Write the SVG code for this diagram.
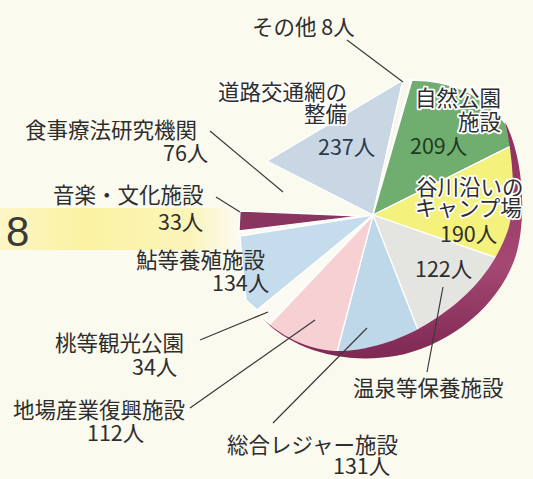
<svg xmlns="http://www.w3.org/2000/svg" width="533" height="479" viewBox="0 0 533 479">
<defs>
<linearGradient id="band" x1="0" y1="0" x2="1" y2="0">
<stop offset="0" stop-color="#fcf6c8"/>
<stop offset="0.35" stop-color="#fbf2a2"/>
<stop offset="0.8" stop-color="#fbf3ab" stop-opacity="0.8"/>
<stop offset="1" stop-color="#fbf3ab" stop-opacity="0"/>
</linearGradient>
<linearGradient id="rim" x1="0" y1="0" x2="0" y2="1">
<stop offset="0" stop-color="#8c2f5d"/>
<stop offset="0.6" stop-color="#a54874"/>
<stop offset="1" stop-color="#7e2853"/>
</linearGradient>
<style>
text{font-family:"Noto Sans CJK JP","Noto Sans",sans-serif;font-size:21.5px;fill:#2e2e2e}
.halo{stroke:#ffffff;stroke-width:3.5;paint-order:stroke;stroke-linejoin:round}
.end{text-anchor:end}
.w{stroke:#ffffff;stroke-width:1.3;stroke-linejoin:round}
.ln{stroke:#3a3a3a;stroke-width:1.2;fill:none}
</style>
</defs>
<rect width="533" height="479" fill="#fbfaef"/>
<rect x="0" y="208" width="236" height="42" fill="url(#band)"/>
<text x="6" y="246" style="font-family:'Liberation Sans',Arial,sans-serif;font-size:42px;fill:#3a3a3a">8</text>

<g id="slice-douro">
<path class="w" d="M373,215 L267,161 L403,80 Z" fill="#c9d7e4"/>
</g>
<g id="slice-sonota">
<path class="w" d="M373,215 L403,80 L411,80 Z" fill="#f8f7ec"/>
</g>
<g id="slice-shizen">
<path class="w" d="M373,215 L412,80 Q472,80 506,124 L511,146 Z" fill="#6fae6f"/>
</g>
<g id="slice-tanigawa">
<path class="w" d="M373,215 L511,146 C518,180 517,225 497,258 Z" fill="#f4f17c"/>
</g>
<g id="slice-onsen">
<path class="w" d="M373,215 L497,258 C482,287 452,314 418,330 Z" fill="#e4e4e0"/>
</g>
<g id="slice-sogo">
<path class="w" d="M373,215 L418,330 C395,343 365,352 337,352 Z" fill="#bed8ea"/>
</g>
<g id="slice-jiba">
<path class="w" d="M373,215 L337,352 C305,350 282,338 268,326 Z" fill="#f7d0d3"/>
</g>
<g id="slice-momo">
<path class="w" d="M373,215 L268,326 L262,318 L257,310 Z" fill="#fbfbf3"/>
</g>
<g id="slice-ayu">
<path class="w" d="M373,215 L257,310 L246,300 L240,236 Z" fill="#c4dcec"/>
</g>
<g id="slice-ongaku">
<path class="w" d="M362,216 L240,211 L239,231 Z" fill="#8a3560"/>
</g>
<g id="rim">
<path d="M262,318 C290,348 340,365 395,356 C450,346 500,305 516,255 C526,222 525,160 505,122 C514,160 516,205 508,230 C496,265 470,300 420,328 C390,345 355,352 335,351 C305,349 280,335 262,318 Z" fill="url(#rim)"/>
</g>

<g id="connectors">
<line class="ln" x1="347" y1="40" x2="403" y2="82"/>
<line class="ln" x1="210" y1="131" x2="283" y2="192"/>
<line class="ln" x1="216" y1="197" x2="240" y2="212"/>
<line class="ln" x1="200" y1="340" x2="268" y2="312"/>
<line class="ln" x1="190" y1="408" x2="315" y2="320"/>
<line class="ln" x1="273" y1="423" x2="367" y2="328"/>
<line class="ln" x1="443" y1="287" x2="427" y2="372"/>
</g>

<g id="label-sonota"><text x="252" y="35">その他 8人</text></g>
<g id="label-douro">
<text class="end halo" x="347" y="100">道路交通網の</text>
<text class="end halo" x="347" y="122">整備</text>
<text x="318" y="155" style="fill:#2c3a4a">237人</text>
</g>
<g id="label-shizen">
<text class="halo" x="415" y="106">自然公園</text>
<text class="end halo" x="501" y="130">施設</text>
<text x="410" y="154" style="fill:#1f3b22">209人</text>
</g>
<g id="label-tanigawa">
<text class="halo" x="416" y="195">谷川沿いの</text>
<text class="halo" x="415" y="216">キャンプ場</text>
<text x="440" y="242">190人</text>
</g>
<g id="label-onsen">
<text x="415" y="277">122人</text>
<text x="353" y="396">温泉等保養施設</text>
</g>
<g id="label-sogo">
<text x="227" y="453">総合レジャー施設</text>
<text x="333" y="474">131人</text>
</g>
<g id="label-jiba">
<text x="13" y="418">地場産業復興施設</text>
<text x="87" y="441">112人</text>
</g>
<g id="label-momo">
<text x="55" y="351">桃等観光公園</text>
<text x="132" y="375">34人</text>
</g>
<g id="label-ayu">
<text x="136" y="268">鮎等養殖施設</text>
<text x="212" y="291">134人</text>
</g>
<g id="label-ongaku">
<text x="53" y="203">音楽・文化施設</text>
<text x="158" y="230">33人</text>
</g>
<g id="label-shokuji">
<text x="25" y="138">食事療法研究機関</text>
<text x="163" y="161">76人</text>
</g>
</svg>
